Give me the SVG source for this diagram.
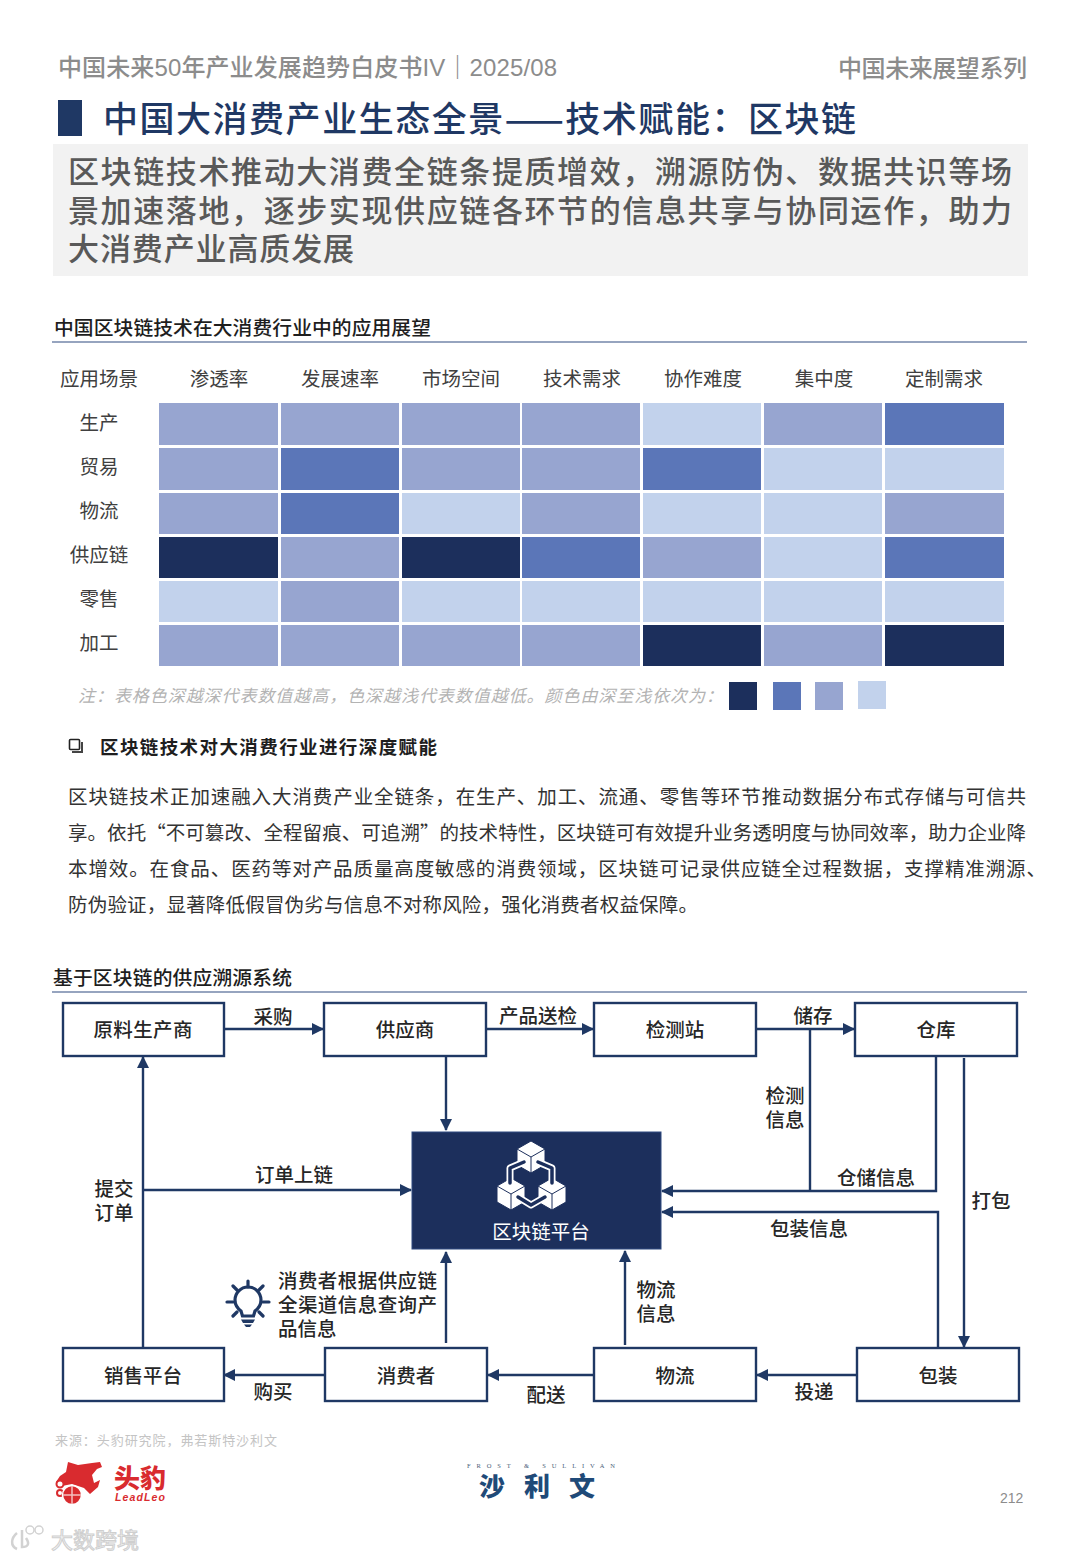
<svg xmlns="http://www.w3.org/2000/svg" width="1080" height="1559" viewBox="0 0 1080 1559">
<defs>
<style>
text{font-family:"Noto Sans CJK SC","Liberation Sans",sans-serif;fill:#2b2b2b}
.hd{font-size:24px;fill:#8c8c8c;font-weight:500;font-family:"Liberation Sans","Noto Sans CJK SC",sans-serif}
.sub{font-size:31px;fill:#595959;font-weight:500}
.sec{font-size:19.8px;font-weight:500;fill:#1e1e1e}
.th{font-size:19.5px;fill:#404040;text-anchor:middle}
.body{font-size:19.5px;fill:#333}
.nt{font-size:19.5px;font-weight:500;fill:#262626;text-anchor:middle}
.lb{font-size:19.5px;font-weight:500;fill:#262626;text-anchor:middle}
.lbs{font-size:19.5px;font-weight:500;fill:#262626}
.a{fill:#1c2f5c}.b{fill:#5b76b8}.c{fill:#97a5d0}.d{fill:#c2d2ec}
.node{fill:#fff;stroke:#1f3864;stroke-width:2.4}
.cn{fill:none;stroke:#1f3864;stroke-width:2.4}
</style>
<marker id="ar" viewBox="0 0 12 12" refX="11" refY="6" markerWidth="12" markerHeight="12" markerUnits="userSpaceOnUse" orient="auto"><path d="M0,0L12,6L0,12z" fill="#1f3864"/></marker>
<g id="cube"><path d="M0,-16L14,-8L14,8L0,16L-14,8L-14,-8z" fill="#fff" stroke="#1c2f5c" stroke-width="1"/><path d="M-14,-8L0,0L14,-8M0,0L0,16" fill="none" stroke="#1c2f5c" stroke-width="1"/></g>
</defs>
<rect width="1080" height="1559" fill="#fff"/>

<g id="header">
<text class="hd" x="58" y="76" textLength="499">中国未来50年产业发展趋势白皮书IV｜2025/08</text>
<text class="hd" x="838" y="77" textLength="189">中国未来展望系列</text>
<rect x="58" y="100" width="24" height="36" fill="#1f3864"/>
<text x="103" y="132" font-size="35" font-weight="500" style="fill:#1f3864" textLength="753">中国大消费产业生态全景——技术赋能：区块链</text>
<rect x="53" y="144" width="975" height="132" fill="#f2f2f2"/>
<text class="sub" x="68" y="183" textLength="944">区块链技术推动大消费全链条提质增效，溯源防伪、数据共识等场</text>
<text class="sub" x="68" y="222" textLength="944">景加速落地，逐步实现供应链各环节的信息共享与协同运作，助力</text>
<text class="sub" x="68" y="260" textLength="286">大消费产业高质发展</text>
</g>

<g id="heatmap">
<text class="sec" x="54" y="335" textLength="377">中国区块链技术在大消费行业中的应用展望</text>
<line x1="52" y1="342" x2="1027" y2="342" stroke="#2f4a80" stroke-width="1.2"/>
<text class="th" x="99" y="386">应用场景</text><text class="th" x="219" y="386">渗透率</text><text class="th" x="340" y="386">发展速率</text><text class="th" x="461" y="386">市场空间</text><text class="th" x="582" y="386">技术需求</text><text class="th" x="703" y="386">协作难度</text><text class="th" x="824" y="386">集中度</text><text class="th" x="944" y="386">定制需求</text>
<text class="th" x="99" y="430">生产</text><text class="th" x="99" y="474">贸易</text><text class="th" x="99" y="518">物流</text><text class="th" x="99" y="562">供应链</text><text class="th" x="99" y="606">零售</text><text class="th" x="99" y="650">加工</text>
<g>
<rect class="c" x="159" y="403" width="119" height="42"/><rect class="c" x="281" y="403" width="118" height="42"/><rect class="c" x="402" y="403" width="118" height="42"/><rect class="c" x="522" y="403" width="118" height="42"/><rect class="d" x="643" y="403" width="118" height="42"/><rect class="c" x="764" y="403" width="118" height="42"/><rect class="b" x="885" y="403" width="119" height="42"/>
<rect class="c" x="159" y="448" width="119" height="42"/><rect class="b" x="281" y="448" width="118" height="42"/><rect class="c" x="402" y="448" width="118" height="42"/><rect class="c" x="522" y="448" width="118" height="42"/><rect class="b" x="643" y="448" width="118" height="42"/><rect class="d" x="764" y="448" width="118" height="42"/><rect class="d" x="885" y="448" width="119" height="42"/>
<rect class="c" x="159" y="493" width="119" height="41"/><rect class="b" x="281" y="493" width="118" height="41"/><rect class="d" x="402" y="493" width="118" height="41"/><rect class="c" x="522" y="493" width="118" height="41"/><rect class="d" x="643" y="493" width="118" height="41"/><rect class="d" x="764" y="493" width="118" height="41"/><rect class="c" x="885" y="493" width="119" height="41"/>
<rect class="a" x="159" y="537" width="119" height="41"/><rect class="c" x="281" y="537" width="118" height="41"/><rect class="a" x="402" y="537" width="118" height="41"/><rect class="b" x="522" y="537" width="118" height="41"/><rect class="c" x="643" y="537" width="118" height="41"/><rect class="d" x="764" y="537" width="118" height="41"/><rect class="b" x="885" y="537" width="119" height="41"/>
<rect class="d" x="159" y="581" width="119" height="41"/><rect class="c" x="281" y="581" width="118" height="41"/><rect class="d" x="402" y="581" width="118" height="41"/><rect class="d" x="522" y="581" width="118" height="41"/><rect class="d" x="643" y="581" width="118" height="41"/><rect class="d" x="764" y="581" width="118" height="41"/><rect class="d" x="885" y="581" width="119" height="41"/>
<rect class="c" x="159" y="625" width="119" height="41"/><rect class="c" x="281" y="625" width="118" height="41"/><rect class="c" x="402" y="625" width="118" height="41"/><rect class="c" x="522" y="625" width="118" height="41"/><rect class="a" x="643" y="625" width="118" height="41"/><rect class="c" x="764" y="625" width="118" height="41"/><rect class="a" x="885" y="625" width="119" height="41"/>
</g>
<text x="78" y="702" font-size="17" font-style="italic" style="fill:#b3b3b3" textLength="645">注：表格色深越深代表数值越高，色深越浅代表数值越低。颜色由深至浅依次为：</text>
<rect class="a" x="729" y="682" width="28" height="28"/><rect class="b" x="773" y="682" width="28" height="28"/><rect class="c" x="815" y="682" width="28" height="28"/><rect class="d" x="858" y="681" width="28" height="28"/>
</g>

<g id="body">
<rect x="69.500" y="739.500" width="10" height="10" rx="1" fill="none" stroke="#222" stroke-width="1.6"/>
<path d="M72,752H82V742" fill="none" stroke="#444" stroke-width="2"/>
<text x="100" y="754" font-size="18.500" font-weight="600" style="fill:#1e1e1e" textLength="337">区块链技术对大消费行业进行深度赋能</text>
<text class="body" x="68" y="804" textLength="958">区块链技术正加速融入大消费产业全链条，在生产、加工、流通、零售等环节推动数据分布式存储与可信共</text>
<text class="body" x="68" y="840" textLength="958">享。依托“不可篡改、全程留痕、可追溯”的技术特性，区块链可有效提升业务透明度与协同效率，助力企业降</text>
<text class="body" x="68" y="876" textLength="978">本增效。在食品、医药等对产品质量高度敏感的消费领域，区块链可记录供应链全过程数据，支撑精准溯源、</text>
<text class="body" x="68" y="912" textLength="630">防伪验证，显著降低假冒伪劣与信息不对称风险，强化消费者权益保障。</text>
<text class="sec" x="53" y="985" textLength="239">基于区块链的供应溯源系统</text>
<line x1="52" y1="992" x2="1027" y2="992" stroke="#2f4a80" stroke-width="1.2"/>
</g>

<g id="connectors">
<path class="cn" marker-end="url(#ar)" d="M224,1029H323"/>
<path class="cn" marker-end="url(#ar)" d="M486,1029H593"/>
<path class="cn" marker-end="url(#ar)" d="M756,1029H854"/>
<path class="cn" marker-end="url(#ar)" d="M446,1057V1130"/>
<path class="cn" d="M810,1029V1191"/>
<path class="cn" marker-end="url(#ar)" d="M936,1056V1191H662"/>
<path class="cn" marker-end="url(#ar)" d="M964,1058V1347"/>
<path class="cn" marker-end="url(#ar)" d="M938,1347V1212H662"/>
<path class="cn" marker-end="url(#ar)" d="M625,1345V1251"/>
<path class="cn" marker-end="url(#ar)" d="M446,1343V1252"/>
<path class="cn" marker-end="url(#ar)" d="M857,1375H757"/>
<path class="cn" marker-end="url(#ar)" d="M594,1375H488"/>
<path class="cn" marker-end="url(#ar)" d="M325,1375H224"/>
<path class="cn" marker-end="url(#ar)" d="M143,1348V1057"/>
<path class="cn" marker-end="url(#ar)" d="M143,1190H411"/>
</g>
<g id="edge-labels">
<text class="lb" x="273" y="1024">采购</text><text class="lb" x="538" y="1023">产品送检</text><text class="lb" x="813" y="1023">储存</text>
<text class="lb" x="785" y="1103">检测</text><text class="lb" x="785" y="1127">信息</text>
<text class="lb" x="876" y="1185">仓储信息</text><text class="lb" x="809" y="1236">包装信息</text><text class="lb" x="991" y="1208">打包</text>
<text class="lb" x="294" y="1182">订单上链</text><text class="lb" x="114" y="1196">提交</text><text class="lb" x="114" y="1220">订单</text>
<text class="lb" x="656" y="1297">物流</text><text class="lb" x="656" y="1321">信息</text>
<text class="lb" x="273" y="1399">购买</text><text class="lb" x="546" y="1402">配送</text><text class="lb" x="814" y="1399">投递</text>
<text class="lbs" x="278" y="1288" textLength="159">消费者根据供应链</text><text class="lbs" x="278" y="1312" textLength="159">全渠道信息查询产</text><text class="lbs" x="278" y="1336">品信息</text>
</g>
<g id="bulb" fill="none" stroke="#1f3864" stroke-width="3.200" stroke-linecap="round">
<path d="M242.500,1316L241,1311C237,1308 235,1304 235,1300A13,13 0 1 1 261,1300C261,1304 259,1308 255,1311L253.500,1316z"/>
<path d="M248,1281V1287M233,1286L237,1290M263,1286L259,1290M227,1302H233M263,1302H269M233,1316L237,1312M263,1316L259,1312"/>
<path d="M241,1319.500H255L253,1323H243zM244,1324.500H252L250,1327H246z" fill="#1f3864" stroke="none"/>
</g>

<g id="n-raw"><rect class="node" x="63" y="1003" width="161" height="53"/><text class="nt" x="143" y="1037" textLength="99">原料生产商</text></g>
<g id="n-supplier"><rect class="node" x="324" y="1003" width="162" height="53"/><text class="nt" x="405" y="1037">供应商</text></g>
<g id="n-test"><rect class="node" x="594" y="1003" width="162" height="53"/><text class="nt" x="675" y="1037">检测站</text></g>
<g id="n-store"><rect class="node" x="855" y="1003" width="162" height="53"/><text class="nt" x="936" y="1037">仓库</text></g>
<g id="n-sales"><rect class="node" x="63" y="1348" width="161" height="53"/><text class="nt" x="143" y="1383">销售平台</text></g>
<g id="n-consumer"><rect class="node" x="325" y="1348" width="162" height="53"/><text class="nt" x="406" y="1383">消费者</text></g>
<g id="n-logistics"><rect class="node" x="594" y="1348" width="162" height="53"/><text class="nt" x="675" y="1383">物流</text></g>
<g id="n-pack"><rect class="node" x="857" y="1348" width="162" height="53"/><text class="nt" x="938" y="1383">包装</text></g>
<g id="n-platform">
<rect x="412" y="1132" width="249" height="117" fill="#1c2f5c" stroke="#2f4a80"/>
<use href="#cube" x="531" y="1157"/><use href="#cube" x="511" y="1194"/><use href="#cube" x="552" y="1194"/>
<path d="M524,1162L510,1168V1183M538,1162L552,1168V1183M518,1197L531,1205L545,1197" fill="none" stroke="#fff" stroke-width="7" stroke-linecap="round" stroke-linejoin="round"/>
<path d="M524,1162L510,1168V1183M538,1162L552,1168V1183M518,1197L531,1205L545,1197" fill="none" stroke="#1c2f5c" stroke-width="3.500" stroke-linecap="round" stroke-linejoin="round"/>
<text x="541" y="1239" font-size="19.500" text-anchor="middle" style="fill:#fff">区块链平台</text>
</g>

<g id="footer">
<text x="55" y="1445" font-size="13" style="fill:#c4c4c4" textLength="222">来源：头豹研究院，弗若斯特沙利文</text>
<path d="M68,1462L78,1465L92,1463L100,1462L102,1467L97,1469L92,1475L94,1483L100,1480L98,1487L90,1494L84,1488L72,1484L62,1486L56,1482L60,1476L66,1472z" fill="#d92b2f"/>
<circle cx="60" cy="1484" r="3.500" fill="#fff" stroke="#d92b2f" stroke-width="2"/><circle cx="60" cy="1493" r="3" fill="#fff" stroke="#d92b2f" stroke-width="2"/>
<circle cx="72" cy="1495" r="9.500" fill="#d92b2f" stroke="#fff" stroke-width="1.500"/>
<path d="M72,1486V1504M63,1495H81" stroke="#f3c0c0" stroke-width="1.500"/>
<text x="114" y="1488" font-size="26" font-weight="900" style="fill:#d92b2f">头豹</text>
<text x="115" y="1501" font-size="10.500" font-weight="700" font-style="italic" textLength="50" style="fill:#d92b2f;font-family:'Liberation Sans',sans-serif">LeadLeo</text>
<text x="467" y="1468" font-size="6.500" textLength="148" style="fill:#4a6078;font-family:'Liberation Serif',serif">FROST &amp; SULLIVAN</text>
<text x="479" y="1496" font-size="26" font-weight="900" letter-spacing="19" style="fill:#1f4a78">沙利文</text>
<text x="1000" y="1503" font-size="14" style="fill:#8c8c8c;font-family:'Liberation Sans',sans-serif">212</text>
<path d="M17,1533C11,1538 10,1546 17,1549M22,1530V1547C28,1547 30,1544 26,1538" fill="none" stroke="#d2d2d2" stroke-width="2.500"/>
<circle cx="30" cy="1530" r="4" fill="none" stroke="#d2d2d2" stroke-width="1.500"/><circle cx="39" cy="1530" r="4" fill="none" stroke="#d2d2d2" stroke-width="1.500"/>
<text x="51" y="1548" font-size="22" stroke="#cfcfcf" stroke-width="1" style="fill:#f7f7f7">大数跨境</text>
</g>
</svg>
